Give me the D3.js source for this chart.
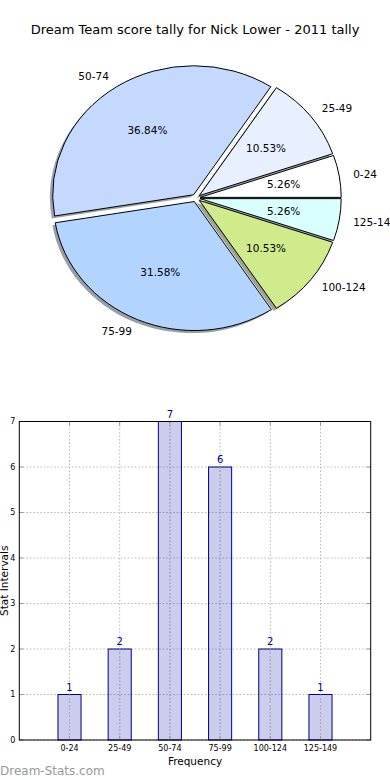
<!DOCTYPE html>
<html>
<head>
<meta charset="utf-8">
<script src="https://d3js.org/d3.v7.min.js"></script>
<style>
  body { margin: 0; background: #fff; }
  svg { display: block; font-family: "DejaVu Sans", sans-serif; }
</style>
</head>
<body>
<div id="chart"></div>
<script>
// dados
var faixas = ["0-24", "25-49", "50-74", "75-99", "100-124", "125-149"];
var contagem = [1, 2, 7, 6, 2, 1];
var coresPizza = ["#ffffff", "#e8f0ff", "#c5d9ff", "#b3d4ff", "#d0eb8c", "#d9ffff"];
var ticksY = [0, 1, 2, 3, 4, 5, 6, 7];

var svg = d3.select("#chart").append("svg")
  .attr("width", 390).attr("height", 780);

svg.append("text")
  .attr("x", 195).attr("y", 34)
  .attr("text-anchor", "middle")
  .style("font-size", "13px")
  .text("Dream Team score tally for Nick Lower - 2011 tally");

// pizza (eliptica, como no matplotlib com eixo nao quadrado)
var cx = 196, cy = 198, rx = 141, ry = 129, explode = 0.03;
var total = d3.sum(contagem);

var pie = d3.pie().sort(null)
  .startAngle(Math.PI / 2).endAngle(Math.PI / 2 - 2 * Math.PI);
var fatias = pie(contagem);
var arco = d3.arc().innerRadius(0).outerRadius(100);

fatias.forEach(function(d) {
  var a = (d.startAngle + d.endAngle) / 2;
  d.dx = Math.sin(a); d.dy = -Math.cos(a);
  d.px = cx + explode * rx * d.dx;
  d.py = cy + explode * ry * d.dy;
});

var gPizza = svg.append("g");
var esc = "scale(" + rx / 100 + "," + ry / 100 + ")";

// sombras primeiro
gPizza.selectAll("path.sombra").data(fatias).enter()
  .append("path").attr("class", "sombra")
  .attr("d", arco)
  .attr("transform", d => "translate(" + (d.px - 0.02 * rx) + "," + (d.py + 0.02 * ry) + ") " + esc)
  .style("fill", function(d, i) {
    var c = d3.rgb(coresPizza[i]);
    return d3.rgb(0.3 * c.r, 0.3 * c.g, 0.3 * c.b);
  })
  .style("fill-opacity", 0.5);

gPizza.selectAll("path.fatia").data(fatias).enter()
  .append("path").attr("class", "fatia")
  .attr("d", arco)
  .attr("transform", d => "translate(" + d.px + "," + d.py + ") " + esc)
  .attr("vector-effect", "non-scaling-stroke")
  .style("fill", (d, i) => coresPizza[i])
  .style("stroke", "#000")
  .style("stroke-width", 1);

gPizza.selectAll("text.rotulo").data(fatias).enter()
  .append("text").attr("class", "rotulo")
  .attr("x", d => d.px + 1.1 * rx * d.dx)
  .attr("y", d => d.py + 1.1 * ry * d.dy)
  .attr("dy", "0.35em")
  .attr("text-anchor", d => d.dx > 0 ? "start" : "end")
  .style("font-size", "10.5px")
  .text((d, i) => faixas[i]);

gPizza.selectAll("text.pct").data(fatias).enter()
  .append("text").attr("class", "pct")
  .attr("x", d => d.px + 0.6 * rx * d.dx)
  .attr("y", d => d.py + 0.6 * ry * d.dy)
  .attr("dy", "0.35em")
  .attr("text-anchor", "middle")
  .style("font-size", "10.5px")
  .text(d => (100 * d.value / total).toFixed(2) + "%");

// barras
var esq = 19.3, dir = 370.7, topo = 421.5, base = 740;
var x = d3.scaleLinear().domain([-1, 6]).range([esq, dir]);
var y = d3.scaleLinear().domain([0, 7]).range([base, topo]);
var larguraBarra = 0.46;

var gBar = svg.append("g");
var cinza = "#b8b8b8";

gBar.selectAll("line.gy").data(ticksY).enter()
  .append("line")
  .attr("x1", esq).attr("x2", dir)
  .attr("y1", d => y(d)).attr("y2", d => y(d))
  .style("stroke", cinza).style("stroke-dasharray", "1.5,2");

gBar.selectAll("line.gx").data(faixas).enter()
  .append("line")
  .attr("x1", (d, i) => x(i)).attr("x2", (d, i) => x(i))
  .attr("y1", topo).attr("y2", base)
  .style("stroke", cinza).style("stroke-dasharray", "1.5,2");

gBar.selectAll("rect").data(contagem).enter()
  .append("rect")
  .attr("x", (d, i) => x(i - larguraBarra / 2))
  .attr("width", x(larguraBarra) - x(0))
  .attr("y", d => y(d))
  .attr("height", d => base - y(d))
  .style("fill", "#0000a0").style("fill-opacity", 0.2)
  .style("stroke", "#00008b").style("stroke-width", 1);

// grade por cima da barra (como no original)
gBar.selectAll("line.gx2").data(faixas).enter()
  .append("line")
  .attr("x1", (d, i) => x(i)).attr("x2", (d, i) => x(i))
  .attr("y1", (d, i) => y(contagem[i])).attr("y2", base)
  .style("stroke", "#a8a8b8").style("stroke-dasharray", "1.5,2");

gBar.selectAll("text.valor").data(contagem).enter()
  .append("text")
  .attr("x", (d, i) => x(i))
  .attr("y", d => y(d) - 4)
  .attr("text-anchor", "middle")
  .style("font-size", "10px")
  .style("fill", "#00008b")
  .text(d => d);

// ticks internos
ticksY.forEach(function(t) {
  gBar.append("line").attr("x1", esq).attr("x2", esq + 4).attr("y1", y(t)).attr("y2", y(t)).style("stroke", "#999");
  gBar.append("line").attr("x1", dir - 4).attr("x2", dir).attr("y1", y(t)).attr("y2", y(t)).style("stroke", "#999");
});
faixas.forEach(function(f, i) {
  gBar.append("line").attr("x1", x(i)).attr("x2", x(i)).attr("y1", base).attr("y2", base - 4).style("stroke", "#999");
  gBar.append("line").attr("x1", x(i)).attr("x2", x(i)).attr("y1", topo).attr("y2", topo + 4).style("stroke", "#999");
});

gBar.append("rect")
  .attr("x", esq).attr("y", topo)
  .attr("width", dir - esq).attr("height", base - topo)
  .style("fill", "none").style("stroke", "#000").style("stroke-width", 1);

gBar.selectAll("text.ty").data(ticksY).enter()
  .append("text")
  .attr("x", esq - 4).attr("y", d => y(d))
  .attr("dy", "0.35em")
  .attr("text-anchor", "end")
  .style("font-size", "8px")
  .text(d => d);

gBar.selectAll("text.tx").data(faixas).enter()
  .append("text")
  .attr("x", (d, i) => x(i)).attr("y", base + 11)
  .attr("text-anchor", "middle")
  .style("font-size", "8px")
  .text(d => d);

svg.append("text")
  .attr("x", (esq + dir) / 2).attr("y", 765)
  .attr("text-anchor", "middle")
  .style("font-size", "10.5px")
  .text("Frequency");

svg.append("text")
  .attr("transform", "translate(8," + (topo + base) / 2 + ") rotate(-90)")
  .attr("text-anchor", "middle")
  .style("font-size", "10.5px")
  .text("Stat Intervals");

svg.append("text")
  .attr("x", 0).attr("y", 775)
  .style("font-size", "12px")
  .style("fill", "#999")
  .text("Dream-Stats.com");
</script>
</body>
</html>
